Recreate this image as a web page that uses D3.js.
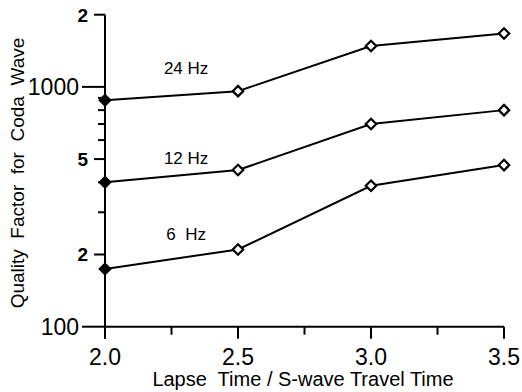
<!DOCTYPE html>
<html>
<head>
<meta charset="utf-8">
<script src="https://cdn.jsdelivr.net/npm/d3@7"></script>
<style>
  body { margin: 0; background: white; }
  text { font-family: "Liberation Sans", Arial, sans-serif; white-space: pre; }
</style>
</head>
<body>
<script>
// values
const lapse = [2.0, 2.5, 3.0, 3.5]
const q24 = [880, 960, 1480, 1670]
const q12 = [400, 450, 700, 800]
const q6 = [174, 210, 387, 472]
const seriesNames = ["24 Hz", "12 Hz", "6  Hz"]
const labelPos = [[2.305, 1205], [2.305, 508], [2.305, 243]] // label centre in data units
const yDecade = [100, 1000]
const yMajor = [200, 500, 2000]
const yMajorText = ["2", "5", "2"]
const yMinor = [300, 400, 600, 700, 800, 900]
const xMajor = [2.0, 2.5, 3.0, 3.5]
const xMinor = [2.25, 2.75, 3.25]

const width = 522, height = 392
const marginLeft = 105, marginRight = 18, marginTop = 14.7, marginBottom = 65.3

const svg = d3.select("body").append("svg")
    .attr("width", width)
    .attr("height", height)

const x = d3.scaleLinear().domain([2.0, 3.5]).range([marginLeft, width - marginRight])
const y = d3.scaleLog().domain([100, 2000]).range([height - marginBottom, marginTop])

// x axis
const xg = svg.append("g").attr("transform", `translate(0,${y(100)})`)
xg.append("line").attr("x1", x(2.0)).attr("x2", x(3.5))
    .attr("stroke", "black").attr("stroke-width", 2)
xg.selectAll(".maj").data(xMajor).join("line")
    .attr("x1", d => x(d)).attr("x2", d => x(d)).attr("y1", 0).attr("y2", 12)
    .attr("stroke", "black").attr("stroke-width", 2)
xg.selectAll(".min").data(xMinor).join("line")
    .attr("x1", d => x(d)).attr("x2", d => x(d)).attr("y1", 0).attr("y2", 8)
    .attr("stroke", "black").attr("stroke-width", 2)
xg.selectAll("text").data(xMajor).join("text")
    .attr("x", d => x(d)).attr("y", 38)
    .attr("text-anchor", "middle")
    .style("font-size", "23px")
    .text(d => d.toFixed(1))

// y axis
const yg = svg.append("g").attr("transform", `translate(${marginLeft},0)`)
yg.append("line").attr("y1", y(2000)).attr("y2", y(100) + 12)
    .attr("stroke", "black").attr("stroke-width", 2)
yg.selectAll(".dec").data(yDecade).join("line")
    .attr("y1", d => y(d)).attr("y2", d => y(d)).attr("x1", -23).attr("x2", 0)
    .attr("stroke", "black").attr("stroke-width", 2)
yg.selectAll(".maj").data(yMajor).join("line")
    .attr("y1", d => y(d)).attr("y2", d => y(d)).attr("x1", -11).attr("x2", 0)
    .attr("stroke", "black").attr("stroke-width", 2)
yg.selectAll(".min").data(yMinor).join("line")
    .attr("y1", d => y(d)).attr("y2", d => y(d)).attr("x1", -7).attr("x2", 0)
    .attr("stroke", "black").attr("stroke-width", 2)
yg.selectAll(".declab").data(yDecade).join("text")
    .attr("x", -26).attr("y", d => y(d)).attr("dy", "0.36em")
    .attr("text-anchor", "end")
    .style("font-size", "23px")
    .text(d => d)
yg.selectAll(".majlab").data(yMajor).join("text")
    .attr("x", -17).attr("y", d => y(d)).attr("dy", "0.36em")
    .attr("text-anchor", "end")
    .style("font-size", "19px")
    .style("font-weight", "bold")
    .text((d, i) => yMajorText[i])

// axis titles
svg.append("text")
    .attr("x", 303).attr("y", 386)
    .attr("text-anchor", "middle")
    .style("font-size", "20px")
    .text("Lapse  Time / S-wave Travel Time")

svg.append("text")
    .attr("transform", `translate(24,${173}) rotate(-90)`)
    .attr("text-anchor", "middle")
    .style("font-size", "19px")
    .text("Quality  Factor  for  Coda  Wave")

// series
const allSeries = [q24, q12, q6]
const line = d3.line().x((d, i) => x(lapse[i])).y(d => y(d))
const diamond = d3.symbol().type(d3.symbolDiamond2).size(70)

allSeries.forEach((s, k) => {
    svg.append("path")
        .datum(s)
        .attr("d", line)
        .attr("fill", "none")
        .attr("stroke", "black")
        .attr("stroke-width", 2)

    svg.append("g").selectAll("path").data(s).join("path")
        .attr("transform", (d, i) => `translate(${x(lapse[i])},${y(d)})`)
        .attr("d", diamond)
        .attr("fill", (d, i) => i === 0 ? "black" : "white")
        .attr("stroke", "black")
        .attr("stroke-width", 2.2)

    svg.append("text")
        .attr("x", x(labelPos[k][0])).attr("y", y(labelPos[k][1]))
        .attr("dy", "0.36em")
        .attr("text-anchor", "middle")
        .style("font-size", "17px")
        .text(seriesNames[k])
})
</script>
</body>
</html>
